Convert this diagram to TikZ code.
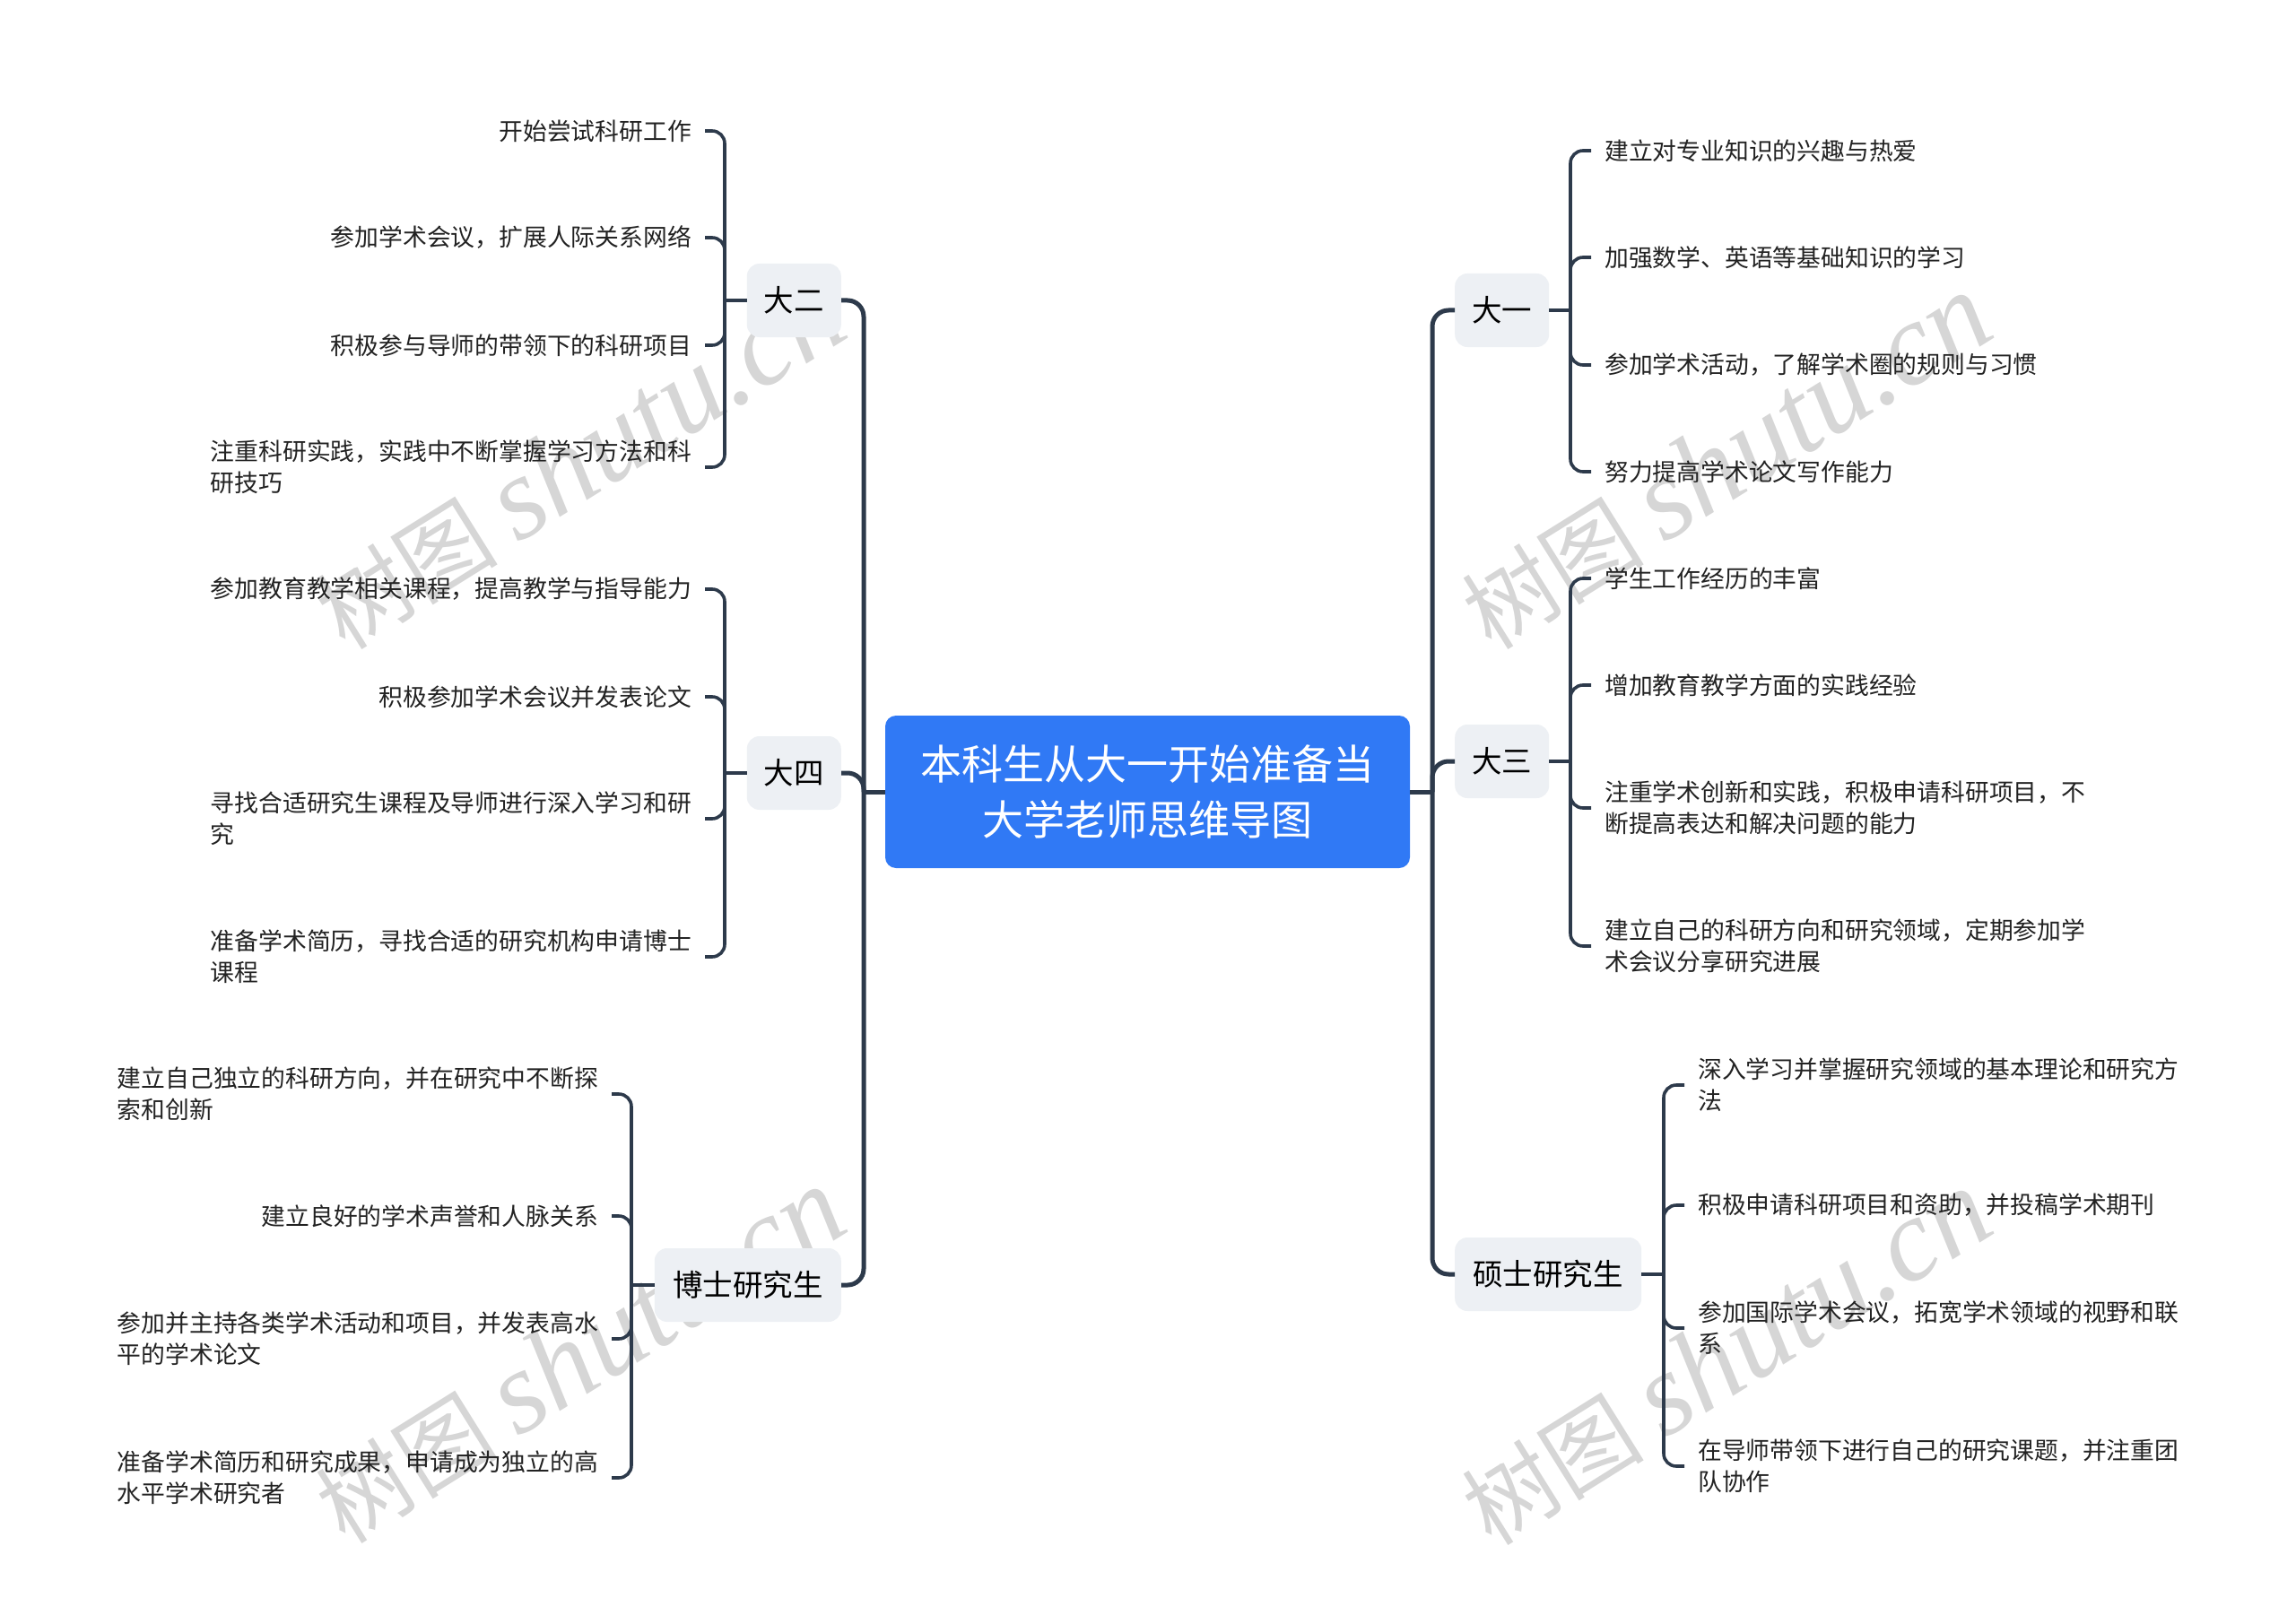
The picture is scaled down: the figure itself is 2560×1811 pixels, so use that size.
\documentclass[tikz,border=0pt]{standalone}
\usepackage{fontspec}
\setmainfont{Noto Sans CJK SC}
\newfontfamily\wmserif{Liberation Serif}
\definecolor{lc}{HTML}{2D3A4B}
\definecolor{rootblue}{HTML}{3079F5}
\definecolor{nodebg}{HTML}{EDF0F4}
\definecolor{txt}{HTML}{222222}
\definecolor{wmgray}{HTML}{D6D6D6}
\begin{document}
\begin{tikzpicture}[x=1pt,y=-1pt,
  trunk/.style={draw=lc, line width=5pt, rounded corners=18pt},
  brk/.style={draw=lc, line width=3.6pt, rounded corners=14pt},
  root/.style={fill=rootblue, rounded corners=12pt, minimum width=585pt, minimum height=170pt,
    text=white, align=center, inner sep=0pt, font=\fontsize{46}{62}\selectfont},
  branch/.style={fill=nodebg, rounded corners=14pt, minimum height=82pt, minimum width=105pt,
    inner sep=0pt, text=black, font=\fontsize{33.5}{40}\selectfont},
  leafR/.style={anchor=west, align=left, inner xsep=15pt, inner ysep=3pt, text=txt,
    font=\fontsize{26.8}{35}\selectfont},
  leafL/.style={anchor=east, align=left, inner xsep=15pt, inner ysep=3pt, text=txt,
    font=\fontsize{26.8}{35}\selectfont},
  wm/.style={rotate=32, text=wmgray, inner sep=0pt, font=\fontsize{102}{102}\selectfont}]
\useasboundingbox (0,0) rectangle (2560,1811);
\fill[white] (0,0) rectangle (2560,1811);

% watermarks
\node[wm] (wm1) at (646,515) {树图 {\wmserif\itshape\fontsize{131}{131}\selectfont shutu.cn}};
\node[wm] (wm2) at (1924,515) {树图 {\wmserif\itshape\fontsize{131}{131}\selectfont shutu.cn}};
\node[wm] (wm3) at (646,1512) {树图 {\wmserif\itshape\fontsize{131}{131}\selectfont shutu.cn}};
\node[wm] (wm4) at (1924,1514) {树图 {\wmserif\itshape\fontsize{131}{131}\selectfont shutu.cn}};

% root
\node[root] (root) at (1279.5,883) {本科生从大一开始准备当\\大学老师思维导图};
\coordinate (rj) at (1597,883);
\coordinate (lj) at (963,883);

% branches right
\node[branch, anchor=west] (d1) at (1622,346) {大一};
\node[branch, anchor=west] (d3) at (1622,849) {大三};
\node[branch, anchor=west, minimum width=208pt] (ms) at (1622,1421) {硕士研究生};
% branches left
\node[branch, anchor=east] (d2) at (938,335) {大二};
\node[branch, anchor=east] (d4) at (938,862) {大四};
\node[branch, anchor=east, minimum width=208pt] (bs) at (938,1433) {博士研究生};

% trunk connectors
\draw[trunk] (root.east) -- (rj);
\draw[trunk] (root.west) -- (lj);
\draw[trunk] (rj) |- (d1.west);
\draw[trunk] (rj) |- (d3.west);
\draw[trunk] (rj) |- (ms.west);
\draw[trunk] (lj) |- (d2.east);
\draw[trunk] (lj) |- (d4.east);
\draw[trunk] (lj) |- (bs.east);

% bracket junctions
\coordinate (b1) at (1751,346);
\coordinate (b3) at (1751,849);
\coordinate (bm) at (1855,1421);
\coordinate (b2) at (808,335);
\coordinate (b4) at (808,862);
\coordinate (bb) at (704,1433);

% leaves 大一
\node[leafR] (l11) at (1774,168) {建立对专业知识的兴趣与热爱};
\node[leafR] (l12) at (1774,287) {加强数学、英语等基础知识的学习};
\node[leafR] (l13) at (1774,407) {参加学术活动，了解学术圈的规则与习惯};
\node[leafR] (l14) at (1774,526) {努力提高学术论文写作能力};
% leaves 大三
\node[leafR] (l31) at (1774,645) {学生工作经历的丰富};
\node[leafR] (l32) at (1774,764) {增加教育教学方面的实践经验};
\node[leafR] (l33) at (1774,901) {注重学术创新和实践，积极申请科研项目，不\\断提高表达和解决问题的能力};
\node[leafR] (l34) at (1774,1055) {建立自己的科研方向和研究领域，定期参加学\\术会议分享研究进展};
% leaves 硕士研究生
\node[leafR] (lm1) at (1878,1210) {深入学习并掌握研究领域的基本理论和研究方\\法};
\node[leafR] (lm2) at (1878,1344) {积极申请科研项目和资助，并投稿学术期刊};
\node[leafR] (lm3) at (1878,1481) {参加国际学术会议，拓宽学术领域的视野和联\\系};
\node[leafR] (lm4) at (1878,1635) {在导师带领下进行自己的研究课题，并注重团\\队协作};
% leaves 大二
\node[leafL] (l21) at (786,146) {开始尝试科研工作};
\node[leafL] (l22) at (786,265) {参加学术会议，扩展人际关系网络};
\node[leafL] (l23) at (786,385) {积极参与导师的带领下的科研项目};
\node[leafL] (l24) at (786,521) {注重科研实践，实践中不断掌握学习方法和科\\研技巧};
% leaves 大四
\node[leafL] (l41) at (786,657) {参加教育教学相关课程，提高教学与指导能力};
\node[leafL] (l42) at (786,777) {积极参加学术会议并发表论文};
\node[leafL] (l43) at (786,913) {寻找合适研究生课程及导师进行深入学习和研\\究};
\node[leafL] (l44) at (786,1067) {准备学术简历，寻找合适的研究机构申请博士\\课程};
% leaves 博士研究生
\node[leafL] (lb1) at (682,1220) {建立自己独立的科研方向，并在研究中不断探\\索和创新};
\node[leafL] (lb2) at (682,1356) {建立良好的学术声誉和人脉关系};
\node[leafL] (lb3) at (682,1493) {参加并主持各类学术活动和项目，并发表高水\\平的学术论文};
\node[leafL] (lb4) at (682,1648) {准备学术简历和研究成果，申请成为独立的高\\水平学术研究者};

% branch to bracket stubs
\draw[brk] (d1.east) -- (b1);
\draw[brk] (d3.east) -- (b3);
\draw[brk] (ms.east) -- (bm);
\draw[brk] (d2.west) -- (b2);
\draw[brk] (d4.west) -- (b4);
\draw[brk] (bs.west) -- (bb);

% brackets
\foreach \l in {l11,l12,l13,l14} \draw[brk] (b1) |- (\l.west);
\foreach \l in {l31,l32,l33,l34} \draw[brk] (b3) |- (\l.west);
\foreach \l in {lm1,lm2,lm3,lm4} \draw[brk] (bm) |- (\l.west);
\foreach \l in {l21,l22,l23,l24} \draw[brk] (b2) |- (\l.east);
\foreach \l in {l41,l42,l43,l44} \draw[brk] (b4) |- (\l.east);
\foreach \l in {lb1,lb2,lb3,lb4} \draw[brk] (bb) |- (\l.east);
\end{tikzpicture}
\end{document}
